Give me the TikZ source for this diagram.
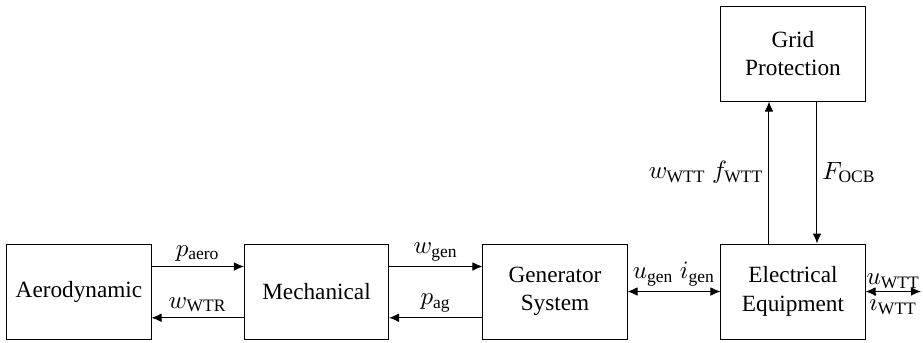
\documentclass[tikz,border=0pt]{standalone}
\usepackage{amsmath}
\usepackage[no-math]{fontspec}
\setmainfont{Liberation Serif}
\usetikzlibrary{arrows.meta}
\newcommand{\sub}[1]{\text{#1}}
\begin{document}
\begin{tikzpicture}[x=0.4pt,y=-0.4pt,
  block/.style={draw,line width=0.4pt,minimum width=57.6pt,minimum height=38pt,align=center,inner sep=2pt,font=\fontsize{9.3}{11.4}\selectfont},
  sig/.style={line width=0.4pt,-{Latex[length=4pt,width=3.4pt]}},
  bisig/.style={line width=0.4pt,{Latex[length=4pt,width=3.4pt]}-{Latex[length=4pt,width=3.4pt]}},
  lbl/.style={inner sep=2pt,font=\fontsize{10}{12}\selectfont}]
\useasboundingbox (0,0) rectangle (923,342);
% blocks
\node[block] (aero) at (79,291.5) {Aerodynamic};
\node[block] (mech) at (316.5,291.5) {Mechanical};
\node[block] (gen)  at (555,291.5) {Generator\\System};
\node[block] (elec) at (793,291.5) {Electrical\\Equipment};
\node[block] (grid) at (793,53.5) {Grid\\Protection};
\coordinate (out) at (921,291.5);
% power and speed signals
\draw[sig] ([yshift=10pt]aero.east) -- node[lbl,above]{$p_\sub{aero}$} ([yshift=10pt]mech.west);
\draw[sig] ([yshift=-10.5pt]mech.west) -- node[lbl,above]{$w_\sub{WTR}$} ([yshift=-10.5pt]aero.east);
\draw[sig] ([yshift=10pt]mech.east) -- node[lbl,above]{$w_\sub{gen}$} ([yshift=10pt]gen.west);
\draw[sig] ([yshift=-10.5pt]gen.west) -- node[lbl,above]{$p_\sub{ag}$} ([yshift=-10.5pt]mech.east);
% electrical coupling
\draw[bisig] (gen.east) -- node[lbl,above]{$u_\sub{gen}\ i_\sub{gen}$} (elec.west);
\draw[bisig] (elec.east) -- node[lbl,above,inner sep=1pt]{$u_\sub{WTT}$} node[lbl,below,inner sep=1pt]{$i_\sub{WTT}$} (out);
% protection loop
\draw[sig] ([xshift=-9.6pt]elec.north) -- node[lbl,left]{$w_\sub{WTT}\ f_\sub{WTT}$} ([xshift=-9.6pt]grid.south);
\draw[sig] ([xshift=9.6pt]grid.south) -- node[lbl,right]{$F_\sub{OCB}$} ([xshift=9.6pt]elec.north);
\end{tikzpicture}
\end{document}
